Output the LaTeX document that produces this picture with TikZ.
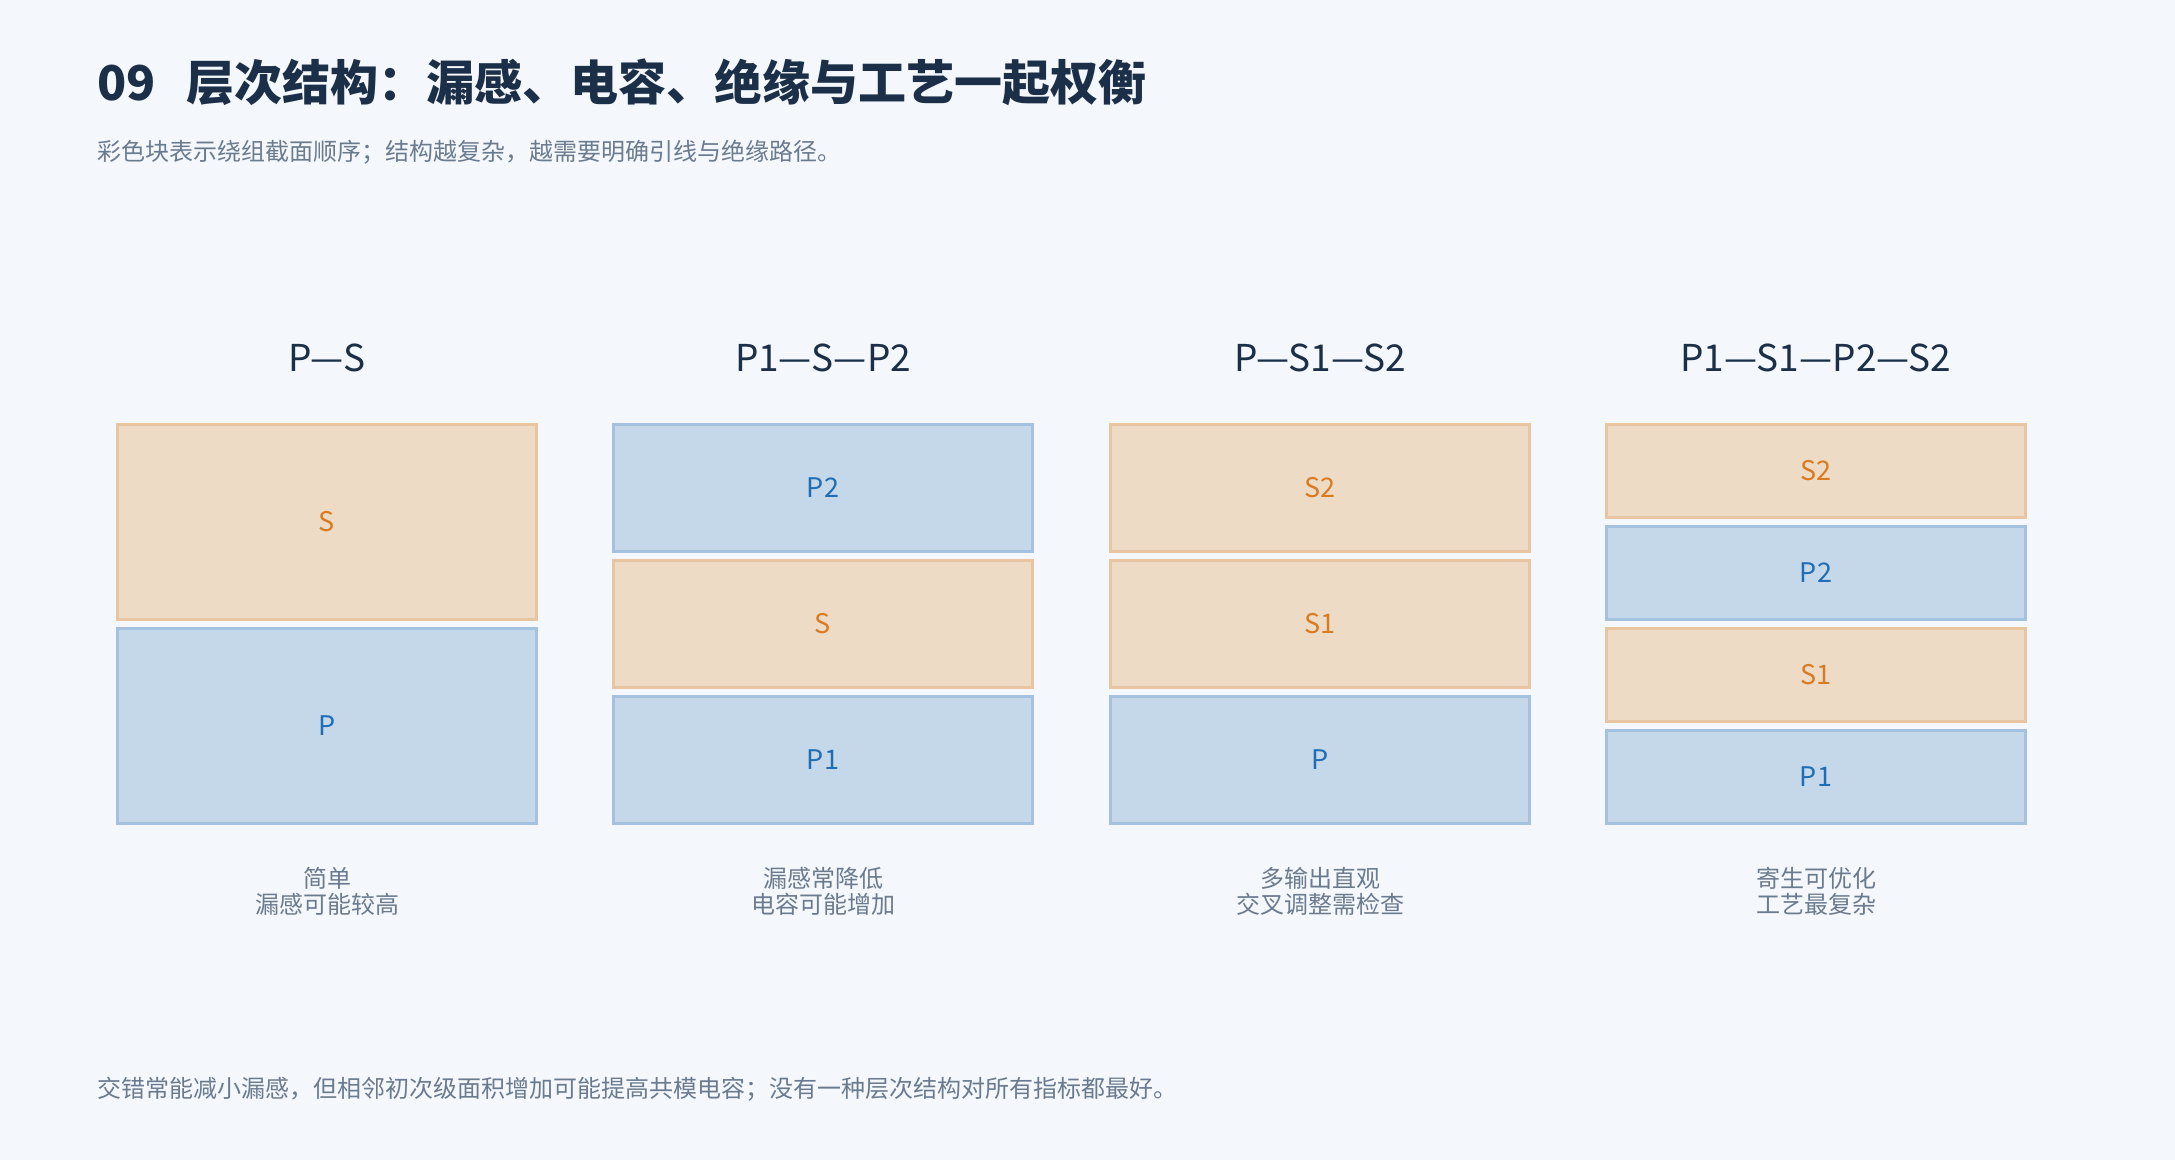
\documentclass[tikz,border=0pt]{standalone}
\usepackage{fontspec}
\setmainfont{Noto Sans CJK SC}
\usepackage{tikz}
\usetikzlibrary{calc}

\definecolor{pagebg}{HTML}{F4F7FB}
\definecolor{titlecol}{HTML}{1B3048}
\definecolor{greytext}{HTML}{6B7B8F}
\definecolor{prifill}{HTML}{C5D8E9}
\definecolor{priline}{HTML}{A4C2E0}
\definecolor{pritext}{HTML}{1F6DB5}
\definecolor{secfill}{HTML}{EDDBC6}
\definecolor{secline}{HTML}{E9C4A0}
\definecolor{sectext}{HTML}{D97B20}

\begin{document}
\begin{tikzpicture}[x=1pt,y=-1pt,
		layer/.style={draw,line width=3pt,minimum width=419pt,inner sep=0pt,font=\fontsize{27}{30}\selectfont},
		pri/.style={layer,draw=priline,fill=prifill,text=pritext},
		sec/.style={layer,draw=secline,fill=secfill,text=sectext},
		two/.style={minimum height=195pt},
		three/.style={minimum height=127pt},
		four/.style={minimum height=93pt},
		head/.style={text=titlecol,font=\fontsize{37}{42}\selectfont,inner sep=0pt},
		note/.style={text=greytext,align=center,font=\fontsize{24}{26}\selectfont,inner sep=0pt}]
				\fill[pagebg] (0,0) rectangle (2175,1160);

				\coordinate(c1) at (327, 0);
				\coordinate(c2) at (823, 0);
				\coordinate(c3) at (1320, 0);
				\coordinate(c4) at (1816, 0);

				\node[anchor=west,inner sep=0pt,text=titlecol,font=\fontsize{48}{52}\selectfont\bfseries] (title) at (97, 82) {09\hspace{0.65em}层次结构：漏感、电容、绝缘与工艺一起权衡};
				\node[anchor=west,inner sep=0pt,text=greytext,font=\fontsize{24}{28}\selectfont] (subtitle) at (97, 152) {彩色块表示绕组截面顺序；结构越复杂，越需要明确引线与绝缘路径。};

				% P-S
				\node[head] (h1) at ($(c1)+(0,358)$) {P—S};
				\node[sec,two] (s1a) at ($(c1)+(0,522)$) {S};
				\node[pri,two] (p1a) at ($(c1)+(0,726)$) {P};
				\node[note] (n1) at ($(c1)+(0,891)$) {简单\\漏感可能较高};

				% P1-S-P2
				\node[head] (h2) at ($(c2)+(0,358)$) {P1—S—P2};
				\node[pri,three] (p2b) at ($(c2)+(0,487.5)$) {P2};
				\node[sec,three] (s2b) at ($(c2)+(0,624)$) {S};
				\node[pri,three] (p1b) at ($(c2)+(0,760)$) {P1};
				\node[note] (n2) at ($(c2)+(0,891)$) {漏感常降低\\电容可能增加};

				% P-S1-S2
				\node[head] (h3) at ($(c3)+(0,358)$) {P—S1—S2};
				\node[sec,three] (s2c) at ($(c3)+(0,487.5)$) {S2};
				\node[sec,three] (s1c) at ($(c3)+(0,624)$) {S1};
				\node[pri,three] (p1c) at ($(c3)+(0,760)$) {P};
				\node[note] (n3) at ($(c3)+(0,891)$) {多输出直观\\交叉调整需检查};

				% P1-S1-P2-S2
				\node[head] (h4) at ($(c4)+(0,358)$) {P1—S1—P2—S2};
				\node[sec,four] (s2d) at ($(c4)+(0,471)$) {S2};
				\node[pri,four] (p2d) at ($(c4)+(0,573)$) {P2};
				\node[sec,four] (s1d) at ($(c4)+(0,675)$) {S1};
				\node[pri,four] (p1d) at ($(c4)+(0,777)$) {P1};
				\node[note] (n4) at ($(c4)+(0,891)$) {寄生可优化\\工艺最复杂};

				\node[anchor=west,inner sep=0pt,text=greytext,font=\fontsize{24}{28}\selectfont] (footer) at (97, 1089) {交错常能减小漏感，但相邻初次级面积增加可能提高共模电容；没有一种层次结构对所有指标都最好。};

			\end{tikzpicture}
\end{document}
